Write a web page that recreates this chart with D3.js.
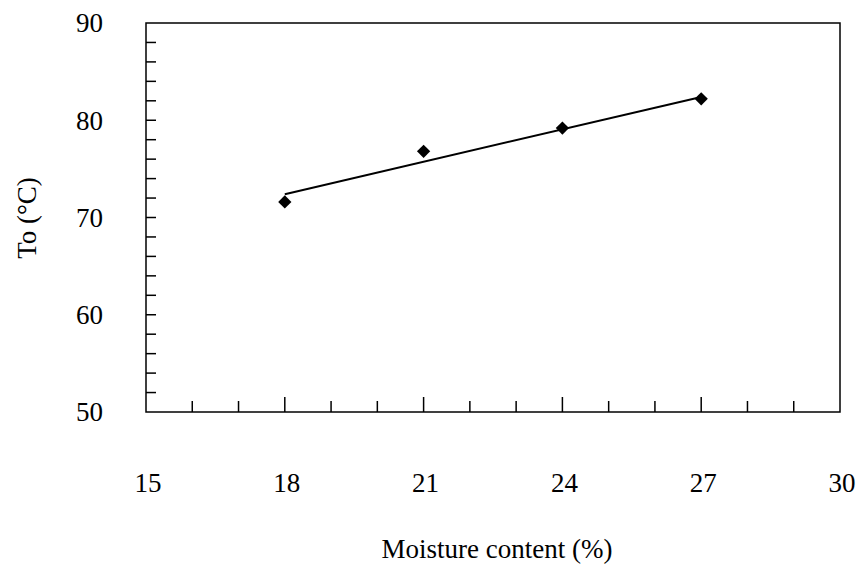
<!DOCTYPE html>
<html>
<head>
<meta charset="utf-8">
<script src="https://cdn.jsdelivr.net/npm/d3@7"></script>
<style>
  body { margin: 0; background: #fff; }
  svg text { font-family: "Liberation Serif", "DejaVu Serif", serif; fill: #000; }
</style>
</head>
<body>
<div id="chart"></div>
<script>
const width = 857;
const height = 566;

// measured points
const moisture = [18, 21, 24, 27];
const onsetTemp = [71.6, 76.8, 79.2, 82.2];

// fitted line at its two ends
const trendX = [18, 27];
const trendY = [72.4, 82.4];

const xTickLabels = [15, 18, 21, 24, 27, 30];
const yTickLabels = [50, 60, 70, 80, 90];

const margin = {top: 23, right: 17, bottom: 154, left: 146};

const svg = d3.select("#chart").append("svg")
    .attr("width", width)
    .attr("height", height);

const x = d3.scaleLinear().domain([15, 30]).range([margin.left, width - margin.right]);
const y = d3.scaleLinear().domain([50, 90]).range([height - margin.bottom, margin.top]);

// frame
svg.append("rect")
    .attr("x", x(15))
    .attr("y", y(90))
    .attr("width", x(30) - x(15))
    .attr("height", y(50) - y(90))
    .attr("fill", "none")
    .attr("stroke", "#000")
    .attr("stroke-width", 1.5);

// x ticks point up into the plot, every 1 unit
const xTicks = d3.range(16, 30, 1);
svg.append("g")
  .selectAll("line")
  .data(xTicks)
  .join("line")
    .attr("x1", d => x(d))
    .attr("x2", d => x(d))
    .attr("y1", y(50))
    .attr("y2", d => y(50) - (xTickLabels.includes(d) ? 15 : 11))
    .attr("stroke", "#000")
    .attr("stroke-width", 1.5);

svg.append("g")
  .selectAll("text")
  .data(xTickLabels)
  .join("text")
    .attr("x", d => x(d) + 2)
    .attr("y", 492)
    .attr("text-anchor", "middle")
    .style("font-size", "27px")
    .text(d => d);

// y ticks point right, every 2 units
const yTicks = d3.range(52, 90, 2);
svg.append("g")
  .selectAll("line")
  .data(yTicks)
  .join("line")
    .attr("x1", x(15))
    .attr("x2", x(15) + 10)
    .attr("y1", d => y(d))
    .attr("y2", d => y(d))
    .attr("stroke", "#000")
    .attr("stroke-width", 1.5);

svg.append("g")
  .selectAll("text")
  .data(yTickLabels)
  .join("text")
    .attr("x", 103)
    .attr("y", d => y(d))
    .attr("dy", "0.35em")
    .attr("text-anchor", "end")
    .style("font-size", "27px")
    .text(d => d);

// trend line
svg.append("line")
    .attr("x1", x(trendX[0]))
    .attr("y1", y(trendY[0]))
    .attr("x2", x(trendX[1]))
    .attr("y2", y(trendY[1]))
    .attr("stroke", "#000")
    .attr("stroke-width", 2);

// diamond markers
svg.append("g")
  .selectAll("path")
  .data(moisture.map((m, i) => [m, onsetTemp[i]]))
  .join("path")
    .attr("d", d3.symbol().type(d3.symbolSquare).size(88))
    .attr("transform", d => `translate(${x(d[0])},${y(d[1])}) rotate(45)`)
    .attr("fill", "#000");

// axis titles
svg.append("text")
    .attr("x", 497)
    .attr("y", 558)
    .attr("text-anchor", "middle")
    .style("font-size", "27px")
    .text("Moisture content (%)");

svg.append("text")
    .attr("transform", `translate(36,218) rotate(-90)`)
    .attr("text-anchor", "middle")
    .style("font-size", "27px")
    .text("To (°C)");
</script>
</body>
</html>
